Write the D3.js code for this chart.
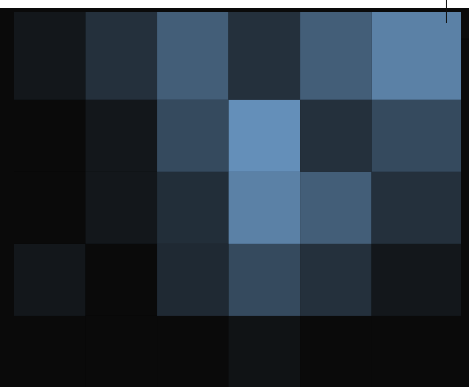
<!DOCTYPE html>
<html>
<head>
<meta charset="utf-8">
<script src="https://cdn.jsdelivr.net/npm/d3@7"></script>
<style>
  html, body { margin: 0; padding: 0; background: #fff; }
  svg { display: block; }
</style>
</head>
<body>
<div id="graphic"></div>
<script>
// bin edges (x left->right, y bottom->top)
const xEdges = [0, 1, 2, 3, 4, 5, 6.25];
const yEdges = [0, 1, 2, 3, 4, 5.22];

// cell values, rows from top to bottom
const row1 = [0.09, 0.27, 0.59, 0.27, 0.59, 0.84];
const row2 = [0.00, 0.09, 0.45, 0.94, 0.27, 0.45];
const row3 = [0.00, 0.09, 0.25, 0.84, 0.59, 0.27];
const row4 = [0.09, 0.00, 0.22, 0.45, 0.27, 0.09];
const row5 = [0.00, 0.00, 0.00, 0.06, 0.00, 0.00];
const rows = [row1, row2, row3, row4, row5];

const topTick = [6.04];
const rightTick = [4.85];

const width = 469, height = 387;
const margin = {top: 12, left: 14, right: 8, bottom: -1};

var svg = d3.select("#graphic").append("svg")
    .attr("width", width)
    .attr("height", height);

// dark plot background
svg.append("rect")
    .attr("x", 0).attr("y", 8)
    .attr("width", width).attr("height", height - 8)
    .style("fill", "#0a0a0a");

var x = d3.scaleLinear()
    .domain([0, xEdges[xEdges.length - 1]])
    .range([margin.left, width - margin.right]);

var y = d3.scaleLinear()
    .domain([0, yEdges[yEdges.length - 1]])
    .range([height - margin.bottom, margin.top]);

var color = d3.scaleLinear()
    .domain([0, 1])
    .range(["#0a0a0a", "#6a98c4"]);

// flatten into cells
var cells = [];
rows.forEach(function(r, ri) {
    var yi = rows.length - 1 - ri;
    r.forEach(function(v, ci) {
        cells.push({x0: xEdges[ci], x1: xEdges[ci + 1], y0: yEdges[yi], y1: yEdges[yi + 1], v: v});
    });
});

svg.append("g").selectAll("rect").data(cells)
  .enter().append("rect")
    .attr("x", d => x(d.x0))
    .attr("y", d => y(d.y1))
    .attr("width", d => x(d.x1) - x(d.x0))
    .attr("height", d => y(d.y0) - y(d.y1))
    .style("fill", d => color(d.v));

// lone tick at the top
var ax = svg.append("g")
    .attr("transform", "translate(0,23)")
    .call(d3.axisTop(x).tickValues(topTick).tickSize(23).tickFormat(""));
ax.select(".domain").remove();
ax.selectAll("line").attr("stroke", "#111");

// faint tick in the right strip
var ay = svg.append("g")
    .attr("transform", "translate(" + (width - margin.right) + ",0)")
    .call(d3.axisRight(y).tickValues(rightTick).tickSize(8).tickFormat(""));
ay.select(".domain").remove();
ay.selectAll("line").attr("stroke", "#050505");
</script>
</body>
</html>
